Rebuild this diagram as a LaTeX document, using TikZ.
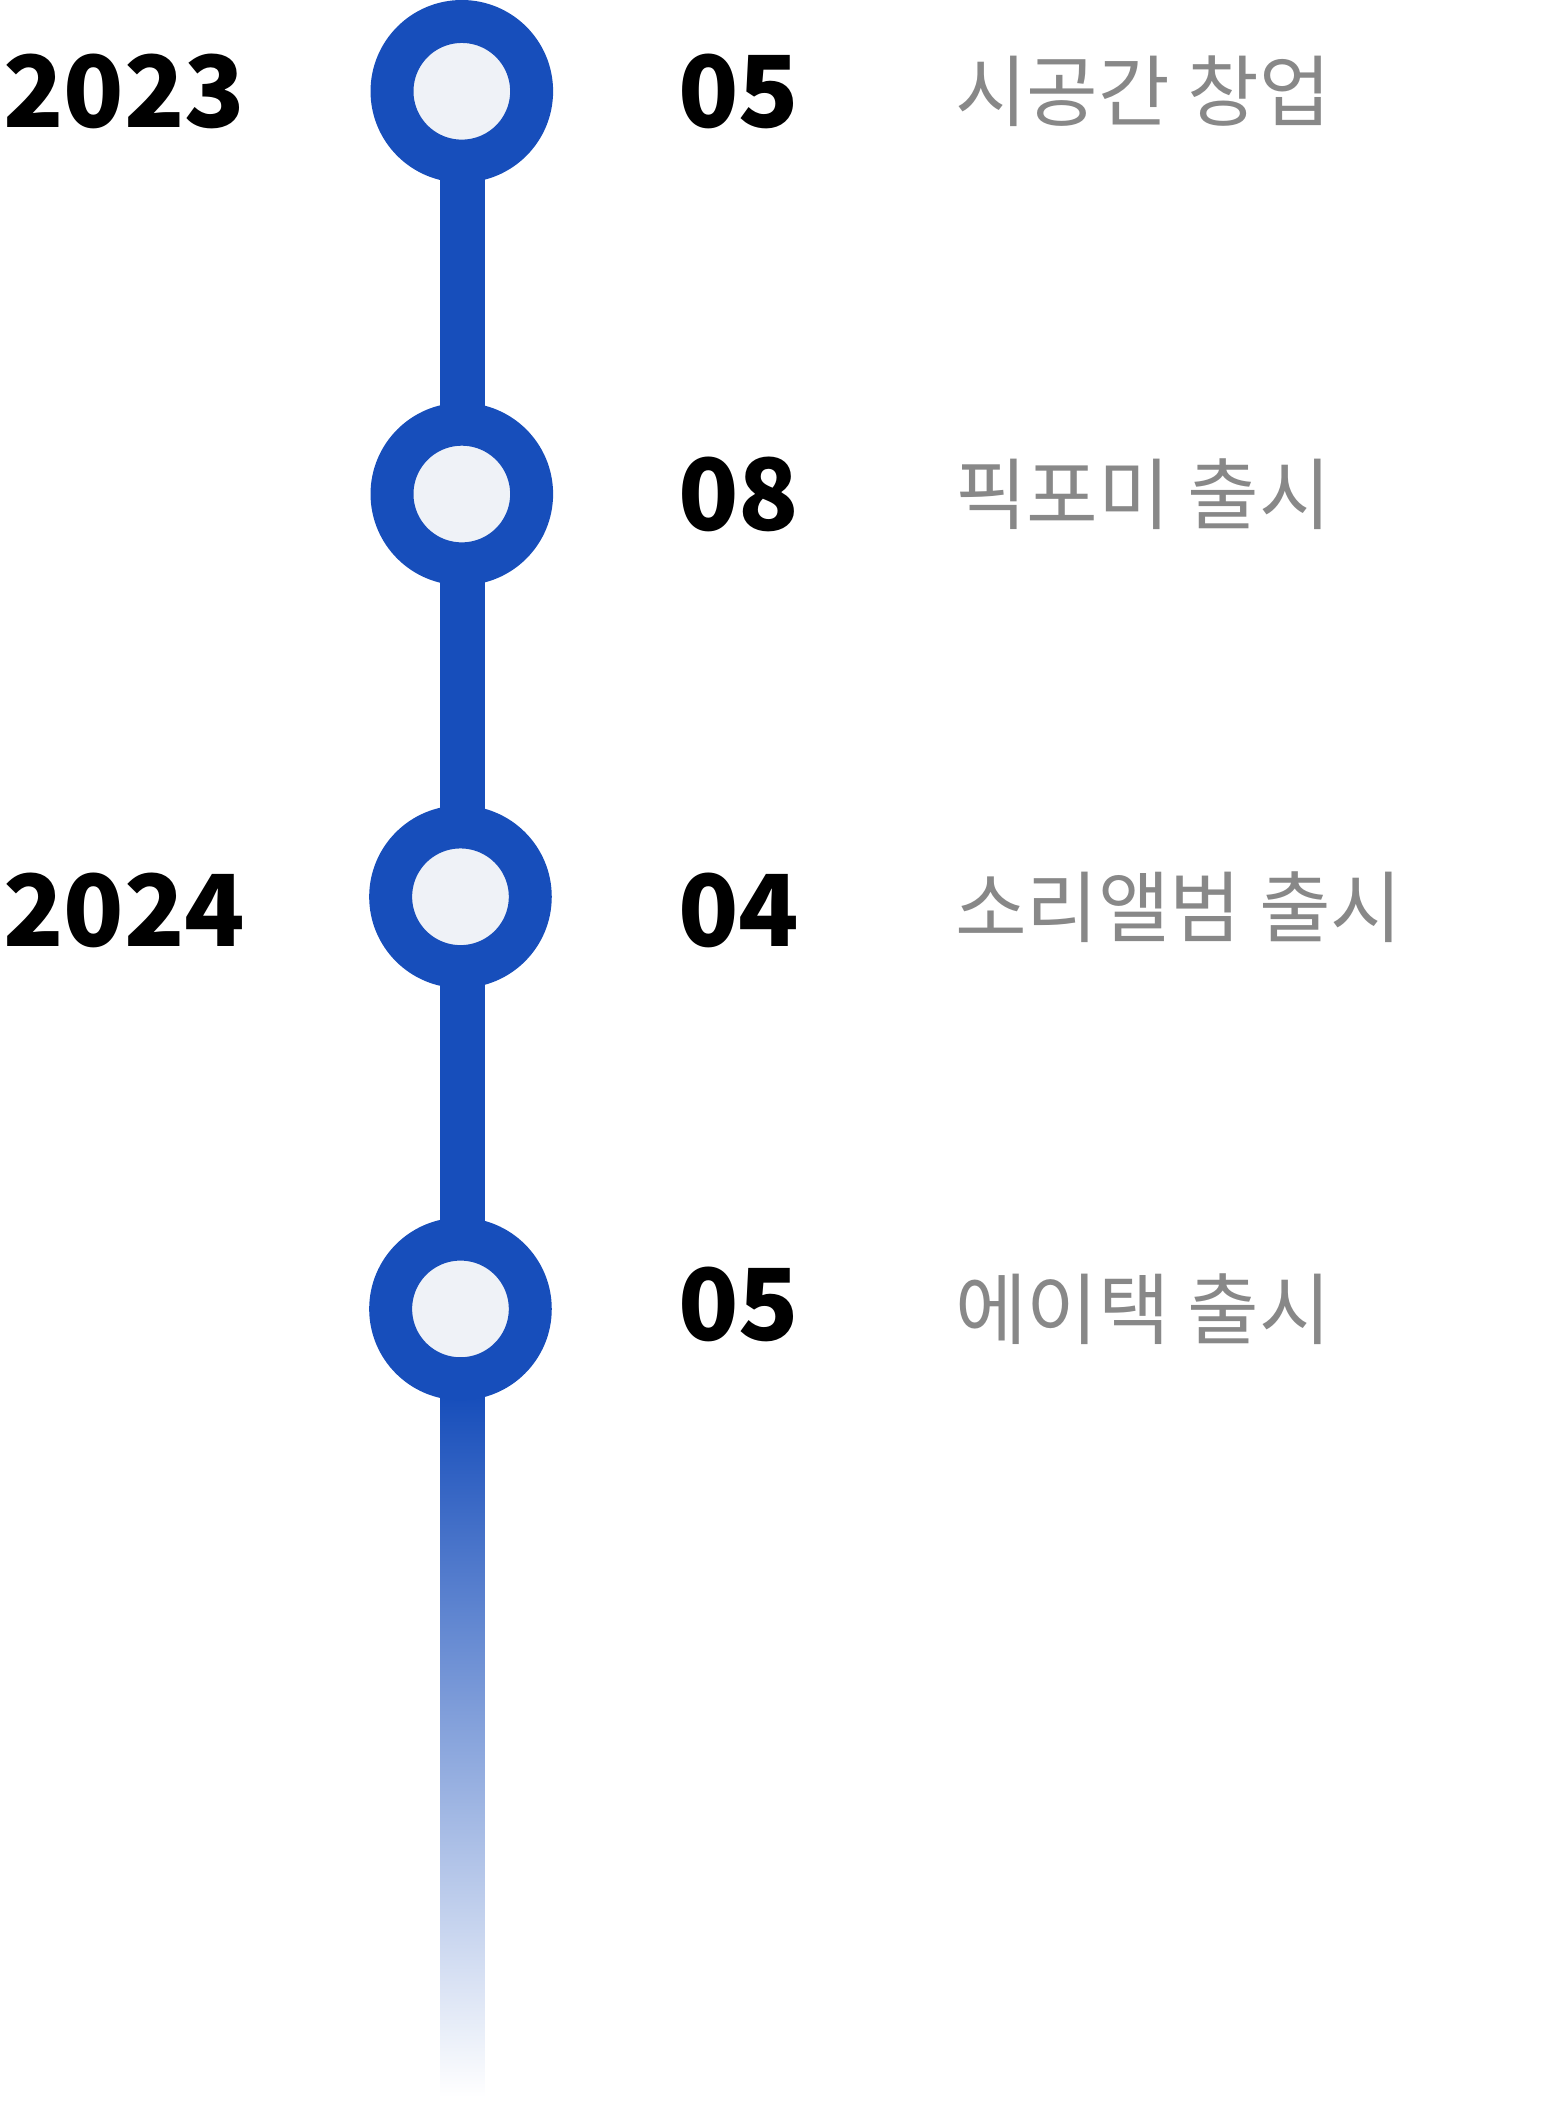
\documentclass[tikz,border=0pt]{standalone}
\usepackage{fontspec}
\newfontfamily\kr{Noto Sans CJK KR}
\definecolor{tblue}{HTML}{174EBB}
\definecolor{tin}{HTML}{EFF2F7}
\definecolor{tgray}{HTML}{888888}
\begin{document}
\begin{tikzpicture}[x=0.5pt,y=-0.5pt,
  ring/.style={circle,draw=tblue,line width=16pt,fill=tin,minimum size=52pt,inner sep=0pt,outer sep=0pt},
  yearlbl/.style={anchor=west,inner sep=0pt,font=\kr\bfseries\fontsize{37pt}{40pt}\selectfont},
  monlbl/.style={anchor=west,inner sep=0pt,font=\kr\bfseries\fontsize{37pt}{40pt}\selectfont},
  evlbl/.style={anchor=west,inner sep=0pt,text=tgray,font=\kr\fontsize{29pt}{33pt}\selectfont}]
\useasboundingbox (0,0) rectangle (1148,1568);
\fill[tblue] (328,68) rectangle (361,1040);
\shade[top color=tblue,bottom color=white] (328,1040) rectangle (361,1562);
\node[ring] (c1) at (344,68) {};
\node[ring] (c2) at (344,368) {};
\node[ring] (c3) at (343,668) {};
\node[ring] (c4) at (343,975) {};
\node[yearlbl] (y1) at (2,68) {2023};
\node[yearlbl] (y2) at (2,678) {2024};
\node[monlbl] (m1) at (505,68) {05};
\node[monlbl] (m2) at (505,368) {08};
\node[monlbl] (m3) at (505,678) {04};
\node[monlbl] (m4) at (505,972) {05};
\node[evlbl] (e1) at (711,68) {시공간 창업};
\node[evlbl] (e2) at (711,368) {픽포미 출시};
\node[evlbl] (e3) at (711,676) {소리앨범 출시};
\node[evlbl] (e4) at (711,975) {에이택 출시};
\end{tikzpicture}
\end{document}
